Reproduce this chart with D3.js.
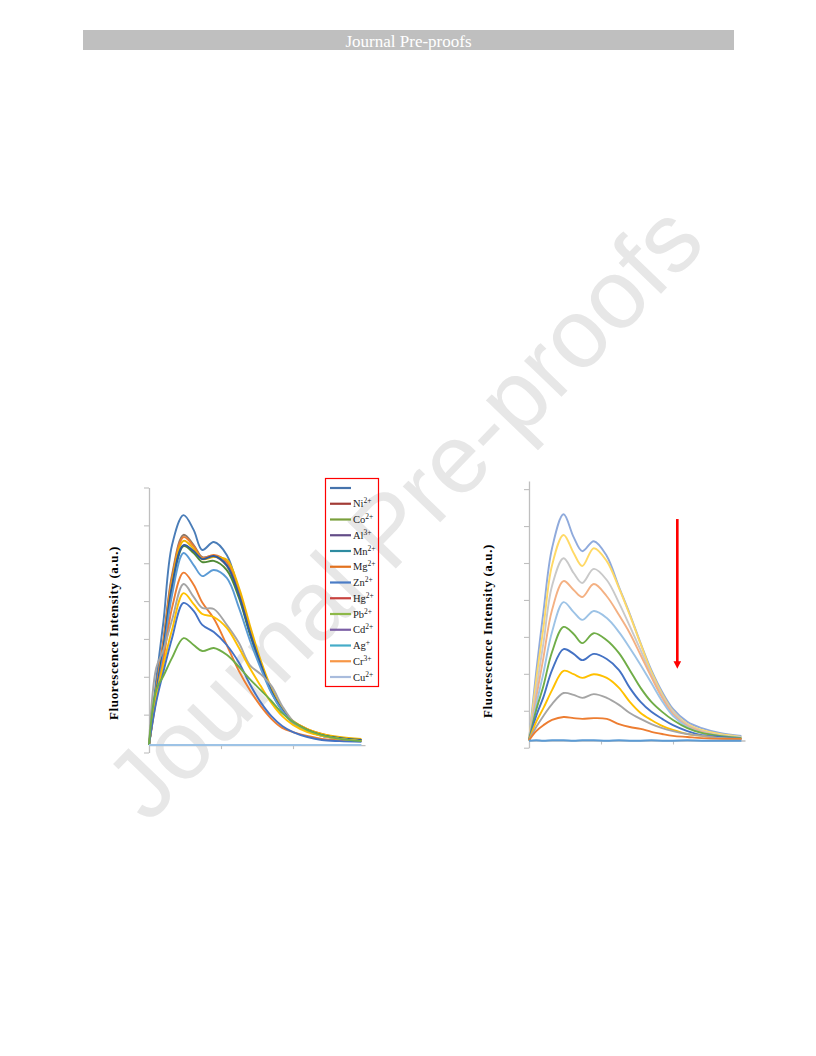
<!DOCTYPE html>
<html><head><meta charset="utf-8">
<script src="https://cdn.jsdelivr.net/npm/d3@7"></script>
<style>html,body{margin:0;padding:0;background:#fff;} svg{display:block;}</style>
</head><body>
<svg id="c" width="816" height="1056"></svg>
<script>
// ---------------- DATA ----------------
const wavelengths = [350,360,370,382,398,412,424,440,458,475,490,505,520,535,550,570,590,615,645];
const xTicks = [450, 550];
const yTicks = [0,100,200,300,400,500,600,700];
const axisCross = 19.5;

// Left panel: spectra of the probe with different metal ions
const leftValues = [
  [20,192,345,548,627,588,535,556,522,424,318,231,160,110,78,57,44,36,30],   // steel blue (top)
  [20,170,297,469,575,548,516,519,493,413,318,234,162,112,81,59,46,38,33],   // brown-grey
  [20,165,292,461,569,545,514,522,503,424,324,237,165,115,83,62,49,38,33],   // orange
  [20,159,279,448,559,538,511,516,509,435,337,244,170,118,83,62,49,41,36],   // gold
  [20,153,271,435,545,527,503,506,482,408,313,231,160,112,81,59,46,38,33],   // dark green
  [20,156,276,440,548,532,511,519,495,416,318,234,162,112,81,59,46,38,33],   // dark blue
  [20,147,258,416,527,495,466,482,461,382,297,223,157,110,78,57,44,36,30],   // light blue
  [20,139,244,382,475,443,396,354,284,215,165,123,89,65,54,44,36,33,30],     // orange
  [20,223,271,350,445,411,382,379,337,289,231,207,176,123,83,57,44,36,30],   // grey
  [20,147,231,324,421,392,366,358,329,276,223,176,131,96,73,54,44,36,30],    // yellow
  [20,133,213,302,395,374,337,318,284,237,181,133,96,70,54,41,33,30,28],     // blue
  [20,165,202,250,302,284,268,276,258,226,194,165,136,104,81,59,46,36,30],   // green
  [20,20,20,20,20,20,20,20,20,20,20,20,20,20,20,20,20,20,20]                 // flat (Cu2+)
];
const leftColors = ["#4A7DB8","#8E7868","#ED7D31","#F0B400","#4F8A35","#2F5A9E","#5B9BD5","#ED7D31","#A5A5A5","#FFC000","#4472C4","#70AD47","#9DC3E6"];

// Right panel: titration spectra
const rightValues = [
  [20,205,367,540,632,570,532,559,519,435,362,283,210,151,105,70,53,40,32],
  [20,183,324,494,576,527,492,540,505,432,359,281,205,145,99,64,48,37,29],
  [20,156,283,438,513,473,446,484,454,392,329,264,197,140,97,61,45,34,29],
  [20,135,243,373,451,427,408,443,410,359,310,251,191,135,91,59,43,32,26],
  [20,116,202,313,394,367,346,370,351,313,270,224,175,126,86,56,40,32,26],
  [20,102,167,259,327,308,283,310,291,256,210,162,124,97,75,53,40,32,26],
  [20,86,137,210,267,254,237,254,240,210,162,124,97,78,61,45,34,29,24],
  [20,70,107,156,208,199,189,199,189,162,124,94,75,59,48,37,32,26,24],
  [20,56,86,118,148,143,135,145,135,116,94,78,64,53,45,37,32,26,24],
  [20,45,61,75,83,80,78,80,78,64,56,51,43,37,32,29,26,24,24],
  [19,20,19,20,20,19,20,20,19,20,19,19,20,19,19,20,19,19,19]
];
const rightColors = ["#8FAADC","#FFD966","#C9C9C9","#F4B183","#9DC3E6","#70AD47","#4472C4","#FFC000","#A5A5A5","#ED7D31","#5B9BD5"];

const legendIons    = ["", "Ni", "Co", "Al", "Mn", "Mg", "Zn", "Hg", "Pb", "Cd", "Ag", "Cr", "Cu"];
const legendCharges = ["", "2+", "2+", "3+", "2+", "2+", "2+", "2+", "2+", "2+", "+",  "3+", "2+"];
const legendColors  = ["#4673AC","#A23B36","#7A9F3B","#634C87","#2E8BA0","#E2711D","#4A7CC6","#C8433F","#8DB848","#7B5EA5","#45ACC8","#F79646","#A9BCDD"];

const arrowSpec = {wl: 556, from: 619, to: 214};
const yLabel = "Fluorescence  Intensity (a.u.)";

// ---------------- DRAW ----------------
const svg = d3.select("#c");

// watermark
svg.append("text")
  .attr("transform","translate(428,535) rotate(-46)")
  .attr("text-anchor","middle")
  .attr("font-family","Liberation Sans, Arial, sans-serif")
  .attr("font-size",98)
  .attr("fill","#E7E7E7")
  .text("Journal Pre-proofs");

// header
svg.append("rect").attr("x",83).attr("y",30).attr("width",651).attr("height",20).attr("fill","#BFBFBF");
svg.append("text").attr("x",408.5).attr("y",46.5).attr("text-anchor","middle")
  .attr("font-family","Liberation Serif, Times New Roman, serif").attr("font-size",17)
  .attr("fill","#fff").text("Journal Pre-proofs");

function panel(x, y, values, colors, labelX, labelY) {
  const g = svg.append("g");
  const ya = g.append("g").attr("transform",`translate(${x.range()[0]},0)`)
    .call(d3.axisLeft(y).tickValues(yTicks).tickSize(5).tickSizeOuter(0).tickFormat(""));
  const xa = g.append("g").attr("transform",`translate(0,${y(axisCross)})`)
    .call(d3.axisBottom(x).tickValues(xTicks).tickSize(4).tickSizeOuter(0).tickFormat(""));
  [ya, xa].forEach(a => {
    a.select(".domain").attr("stroke","#BFBFBF").attr("stroke-width",1.3);
    a.selectAll(".tick line").attr("stroke","#BFBFBF").attr("stroke-width",1.1);
  });
  const line = d3.line()
    .x((d,i) => x(wavelengths[i]))
    .y(d => y(d))
    .curve(d3.curveCatmullRom.alpha(0.5));
  values.forEach((v,i) => {
    g.append("path").attr("d", line(v)).attr("fill","none")
      .attr("stroke", colors[i]).attr("stroke-width",1.9).attr("stroke-linejoin","round");
  });
  g.append("text")
    .attr("transform",`translate(${labelX},${labelY}) rotate(-90)`)
    .attr("text-anchor","middle")
    .attr("font-family","Liberation Serif, Times New Roman, serif")
    .attr("font-weight","bold").attr("font-size",13).attr("letter-spacing",0.6)
    .attr("fill","#000").text(yLabel);
  return g;
}

const xL = d3.scaleLinear().domain([350,650]).range([149,365]);
const yL = d3.scaleLinear().domain([0,700]).range([752.5,487.5]);
panel(xL, yL, leftValues, leftColors, 118, 633);

const xR = d3.scaleLinear().domain([350,650]).range([529,745]);
const yR = d3.scaleLinear().domain([0,722]).range([747.7,481]);
const gR = panel(xR, yR, rightValues, rightColors, 491.5, 631);

// arrow
const ax = xR(arrowSpec.wl), ay1 = yR(arrowSpec.from), ay2 = yR(arrowSpec.to);
gR.append("line").attr("x1",ax).attr("x2",ax).attr("y1",ay1).attr("y2",ay2-6)
  .attr("stroke","#FF0000").attr("stroke-width",2.6);
gR.append("path").attr("d",`M${ax-3.8},${ay2-7.5}L${ax+3.8},${ay2-7.5}L${ax},${ay2}Z`).attr("fill","#FF0000");

// legend
const lg = svg.append("g");
lg.append("rect").attr("x",325.5).attr("y",478.5).attr("width",53).attr("height",208)
  .attr("fill","none").attr("stroke","#FF0000").attr("stroke-width",1.2);
const rowY = d3.scaleLinear().domain([0,12]).range([488,677]);
legendIons.forEach((ion,i) => {
  const yy = rowY(i);
  lg.append("line").attr("x1",330).attr("x2",351).attr("y1",yy).attr("y2",yy)
    .attr("stroke",legendColors[i]).attr("stroke-width",2.2);
  if (ion) {
    const t = lg.append("text").attr("x",353).attr("y",yy+3.5)
      .attr("font-family","Liberation Serif, Times New Roman, serif").attr("font-size",10.5).attr("fill","#222");
    t.append("tspan").text(ion);
    t.append("tspan").attr("dy",-4).attr("font-size",7.5).text(legendCharges[i]);
  }
});
</script></body></html>
